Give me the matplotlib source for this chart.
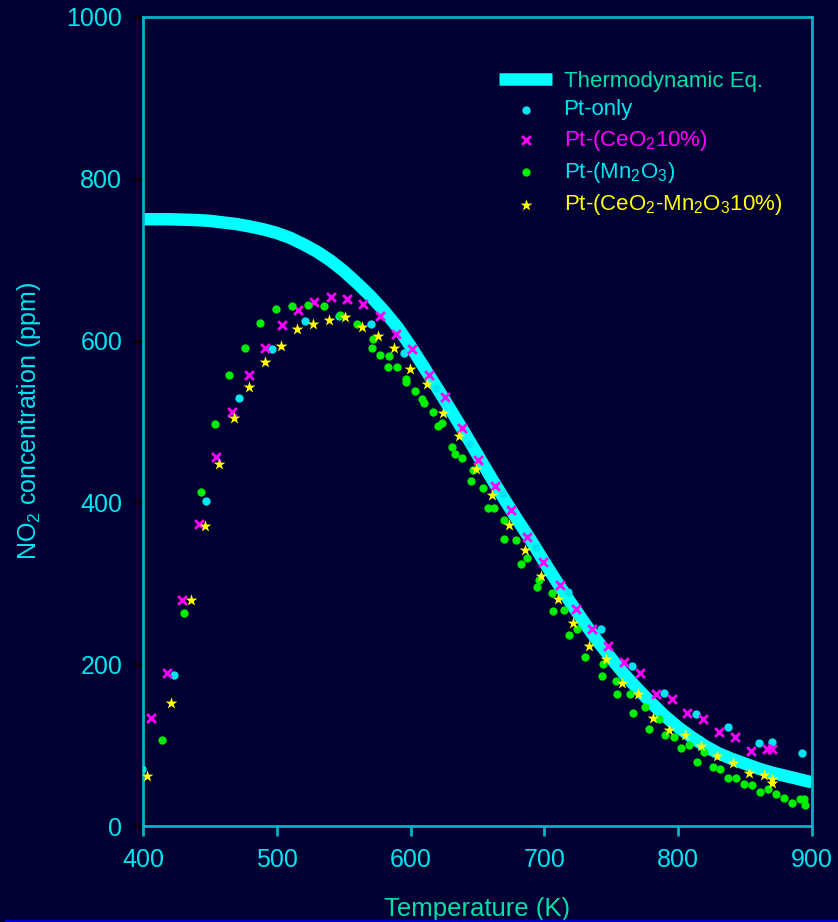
import matplotlib
matplotlib.use('Agg')
import matplotlib.pyplot as plt
from matplotlib.lines import Line2D

plt.rcParams['font.family'] = ['Liberation Sans', 'DejaVu Sans']
plt.rcParams['mathtext.fontset'] = 'custom'
plt.rcParams['mathtext.rm'] = 'Liberation Sans'
plt.rcParams['mathtext.it'] = 'Liberation Sans:italic'

# thermodynamic equilibrium curve
eq_t = [400, 410, 420, 430, 440, 450, 460, 470, 480, 490, 500, 510, 520, 530, 540, 550,
        560, 570, 580, 590, 600, 610, 620, 630, 640, 650, 660, 670, 680, 690, 700, 710,
        720, 730, 740, 750, 760, 770, 780, 790, 800, 810, 820, 830, 840, 850, 860, 870,
        880, 890, 900]
eq_v = [750, 750, 750, 749.5, 749, 748, 746, 744, 741, 737.5, 733, 727, 719, 710, 699, 686,
        671, 655, 637, 617, 593, 567, 541, 514, 487, 459, 431, 404, 378, 353, 326, 300,
        275, 251, 228, 207, 187, 169, 152, 136, 122, 110, 99, 90, 83, 77, 71, 66,
        62, 58, 54]

# Pt-only
pt_t = [399.5, 423, 447.3, 472, 496.6, 521.3, 546.2, 570.4, 595, 619.2, 644, 669, 693.7,
        717.8, 742.3, 765.7, 789.6, 813.5, 837, 860.6, 869.8, 892.7]
pt_v = [70.5, 187, 401.7, 529, 589.6, 624, 631, 621, 585, 541, 472, 411, 344.5,
        289.6, 243, 198, 164.8, 139, 122, 102.6, 103.5, 90.2]

# Pt-(CeO2 10%)
ce_t = [405.7, 417.7, 429, 441.9, 454.3, 466.5, 479, 491.2, 503.7, 515.8, 528, 540.3,
        552.5, 564.7, 577.1, 589.1, 601.3, 613.5, 626, 638.2, 650.4, 662.9, 675, 687.2,
        699.2, 711.4, 723.4, 735.3, 747.3, 759.3, 771.2, 783.1, 795, 806.8, 818.8, 830.5,
        842.5, 854.7, 866.1, 870.3]
ce_v = [133.5, 188.7, 279, 373.7, 456, 512, 558, 591, 619, 638, 647.7, 654,
        651, 645, 631, 608.5, 589, 557.5, 530, 492, 453, 420, 390.6, 357.6,
        326, 298, 268, 243.5, 222.5, 202.7, 189, 163, 156.6, 139.7, 131.9, 115.8,
        110, 93, 95.6, 95.6]

# Pt-(Mn2O3)
mn_t = [414.4, 430.6, 443.3, 454, 464.5, 476, 487.4, 499.4, 511.4, 523.6, 535.5, 547.2,
        559.6, 571, 572, 577, 583.3, 584, 589.8, 596.3, 596.5, 603, 608.5, 609.8, 616.7,
        620.5, 623.7, 631.1, 633.2, 638.6, 645.4, 646.4, 654.1, 657.8, 662.3, 670, 670,
        678.8, 682.3, 687.2, 694.2, 696, 705.4, 706.4, 714.4, 718.5, 724, 730.6, 742.8,
        743.6, 753.5, 754.5, 764, 766.5, 775, 778.4, 785.9, 790.4, 796.9, 802.1, 808,
        814, 819.5, 825.7, 831.2, 837.4, 842.9, 849.1, 855.1, 861.4, 867.3, 873.3, 879.3,
        885.3, 891, 893.8, 894.5]
mn_v = [106.7, 263, 412.5, 497, 557.5, 591, 622, 638.6, 642.8, 644.4, 642.8, 631.6,
        621, 591, 602, 582, 567, 581, 567, 553, 549, 538, 528, 523, 512,
        494, 498.5, 469, 460, 454.4, 426, 439.7, 417.8, 393.5, 392.7, 377.9, 355,
        353, 324, 331.7, 295, 304, 287.6, 265.8, 266.6, 235.7, 243.5, 209, 185.8,
        200, 179, 162.8, 163, 140, 146.7, 120, 132.7, 113, 110, 96, 100,
        79, 91, 73.3, 70, 59, 59.7, 52, 51, 42.4, 45.7, 39.5, 34,
        28, 33, 33, 25.6]

# Pt-(CeO2-Mn2O3 10%)
cm_t = [403.2, 421.2, 435.6, 446.3, 456.8, 467.8, 479.2, 491, 502.9, 514.9, 526.8, 539,
        551.2, 563.4, 575.4, 587.6, 599.8, 612, 624.1, 636.4, 648.6, 661, 673.3, 685.3,
        697.7, 709.9, 721.6, 733.6, 745.8, 757.7, 769.7, 781.4, 793.3, 805.3, 817, 828.8,
        840.7, 852.6, 864.3, 870.3, 870.3]
cm_v = [61.8, 151.7, 279, 370.8, 447, 504.7, 543, 573, 593.7, 614.7, 620.5, 625,
        629, 617, 605.7, 590.4, 565, 546, 511, 482.5, 441, 409, 372, 341,
        309, 280, 250.6, 222.5, 206.8, 177, 163.6, 134, 118.7, 112, 99, 86,
        77.5, 65, 63, 58.5, 52.8]

bg = '#000033'
spine = '#00B4C4'
tick_col = '#00E5EE'
label_green = '#00E0A8'

fig = plt.figure(figsize=(8.38, 9.22), dpi=100, facecolor=bg)
ax = fig.add_axes([143 / 838, 1 - 826 / 922, 669 / 838, 809 / 922])
ax.set_facecolor(bg)

ax.plot(eq_t, eq_v, color='#00FFFF', lw=9, solid_capstyle='butt', solid_joinstyle='round',
        zorder=2, label='Thermodynamic Eq.')
ax.scatter(pt_t, pt_v, s=36, marker='o', color='#00E5F0', lw=0, zorder=3, label='Pt-only')
ax.scatter(ce_t, ce_v, s=40, marker='x', color='#FF00FF', lw=2, zorder=3,
           label='Pt-(CeO$_2$10%)')
ax.scatter(mn_t, mn_v, s=36, marker='o', color='#00EE00', lw=0, zorder=3,
           label='Pt-(Mn$_2$O$_3$)')
ax.scatter(cm_t, cm_v, s=80, marker='*', color='#FFFF00', lw=0, zorder=3,
           label='Pt-(CeO$_2$-Mn$_2$O$_3$10%)')

ax.set_xlim(400, 900)
ax.set_ylim(0, 1000)
ax.set_xticks(range(400, 901, 100))
ax.set_yticks(range(0, 1001, 200))
for s in ax.spines.values():
    s.set_color(spine)
    s.set_linewidth(2)
ax.tick_params(axis='x', colors=spine, direction='out', length=7, width=2,
               labelsize=18, labelcolor=tick_col, pad=9)
ax.tick_params(axis='y', colors='black', direction='out', length=7, width=2,
               labelsize=18, labelcolor=tick_col, pad=8)

ax.set_xlabel('Temperature (K)', fontsize=18.5, color=label_green, labelpad=18)
ax.set_ylabel('NO$_2$ concentration (ppm)', fontsize=18, color=tick_col, labelpad=17)

leg = ax.legend(loc='upper left', bbox_to_anchor=(488 / 838, 1 - 60 / 922),
                bbox_transform=fig.transFigure, frameon=False, fontsize=16,
                handlelength=2.4, handletextpad=0.5, labelspacing=0.33,
                borderpad=0, scatterpoints=1)
text_cols = [label_green, '#00E5F0', '#FF00FF', '#00E5F0', '#FFFF00']
for t, c in zip(leg.get_texts(), text_cols):
    t.set_color(c)

# blue rule along the bottom edge
fig.add_artist(Line2D([6 / 838, 1], [1.5 / 922, 1.5 / 922], transform=fig.transFigure,
                      color='#0000CC', lw=2.5))

plt.savefig('out.png', dpi=100, facecolor=bg)
